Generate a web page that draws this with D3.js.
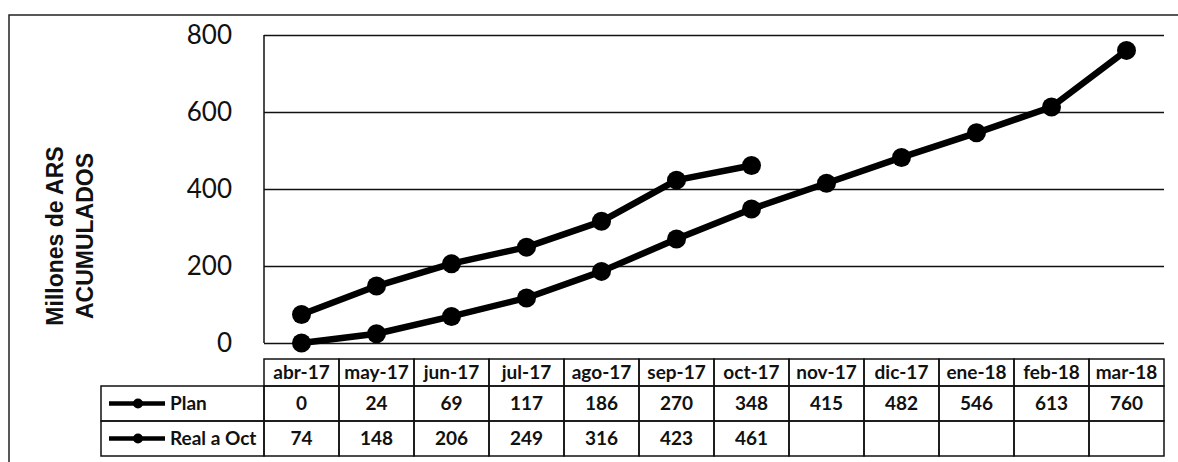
<!DOCTYPE html>
<html>
<head>
<meta charset="utf-8">
<script src="https://cdn.jsdelivr.net/npm/d3@7"></script>
<style>
  body { margin: 0; background: #fff; }
  svg { display: block; }
</style>
</head>
<body>
<svg id="chart"></svg>
<script>
const months = ['abr-17', 'may-17', 'jun-17', 'jul-17', 'ago-17', 'sep-17',
    'oct-17', 'nov-17', 'dic-17', 'ene-18', 'feb-18', 'mar-18'];
const planValues = [0, 24, 69, 117, 186, 270, 348, 415, 482, 546, 613, 760];
const realValues = [74, 148, 206, 249, 316, 423, 461];
const yTicks = [0, 200, 400, 600, 800];
const seriesNames = ['Plan', 'Real a Oct'];

const W = 1178, H = 462;
const margin = {top: 35, right: 14, bottom: 119, left: 264};
const width = W - margin.left - margin.right;
const height = H - margin.top - margin.bottom;

const svg = d3.select('#chart').attr('width', W).attr('height', H);

// outer frame, cropped on the right and bottom like the source
svg.append('rect')
    .attr('x', 9).attr('y', 15)
    .attr('width', W).attr('height', H)
    .attr('fill', 'none').attr('stroke', '#222').attr('stroke-width', 1.5);

const g = svg.append('g')
    .attr('transform', 'translate(' + margin.left + ',' + margin.top + ')');

const x = d3.scaleBand().domain(months).range([0, width]).padding(0);
const y = d3.scaleLinear().domain([0, 800]).range([height, 0]);
const cx = d => x(d) + x.bandwidth() / 2;

// gridlines
g.append('g')
    .attr('class', 'grid')
    .call(d3.axisLeft(y).tickValues(yTicks).tickSize(-width).tickFormat(''))
    .call(s => s.select('.domain').remove())
    .call(s => s.selectAll('line').attr('stroke', '#111').attr('stroke-width', 1.5));

// left axis line
g.append('line')
    .attr('x1', 0).attr('x2', 0).attr('y1', 0).attr('y2', height)
    .attr('stroke', '#111').attr('stroke-width', 1.5);

// y tick labels
g.append('g')
    .call(d3.axisLeft(y).tickValues(yTicks).tickSize(0).tickPadding(32))
    .call(s => s.select('.domain').remove())
    .call(s => s.selectAll('text')
        .attr('font-family', 'Lato, sans-serif')
        .attr('font-size', 26)
        .attr('fill', '#111'));

// y title
const title = svg.append('text')
    .attr('transform', 'translate(70,236) rotate(-90)')
    .attr('text-anchor', 'middle')
    .attr('font-family', '"Liberation Sans", Arial, sans-serif')
    .attr('font-weight', 'bold')
    .attr('font-size', 23)
    .attr('fill', '#111');
title.append('tspan').attr('x', 0).attr('dy', '-0.3em').text('Millones de ARS');
title.append('tspan').attr('x', 0).attr('dy', '1.3em').text('ACUMULADOS');

// lines
const line = d3.line()
    .x((d, i) => cx(months[i]))
    .y(d => y(d));

[planValues, realValues].forEach(vals => {
    g.append('path')
        .datum(vals)
        .attr('d', line)
        .attr('fill', 'none')
        .attr('stroke', '#000')
        .attr('stroke-width', 6.5)
        .attr('stroke-linejoin', 'round');
    g.selectAll(null)
        .data(vals)
        .join('circle')
        .attr('cx', (d, i) => cx(months[i]))
        .attr('cy', d => y(d))
        .attr('r', 9.5)
        .attr('fill', '#000');
});

// data table
const tableTop = height + 16;
const headH = 27, rowH = 35;
const legendLeft = 101 - margin.left;
const tbl = g.append('g').attr('class', 'table')
    .attr('font-family', 'Lato, sans-serif')
    .attr('font-weight', 'bold')
    .attr('font-size', 19)
    .attr('fill', '#111');

const cellStyle = s => s.attr('fill', 'none').attr('stroke', '#111').attr('stroke-width', 1.5);

// header cells
tbl.selectAll('rect.head')
    .data(months)
    .join('rect')
    .attr('class', 'head')
    .attr('x', d => x(d)).attr('y', tableTop)
    .attr('width', x.bandwidth()).attr('height', headH)
    .call(cellStyle);
tbl.selectAll('text.head')
    .data(months)
    .join('text')
    .attr('class', 'head')
    .attr('x', d => cx(d)).attr('y', tableTop + headH / 2)
    .attr('dy', '0.36em')
    .attr('text-anchor', 'middle')
    .text(d => d);

[planValues, realValues].forEach((vals, r) => {
    const ry = tableTop + headH + r * rowH;
    // legend cell
    tbl.append('rect')
        .attr('x', legendLeft).attr('y', ry)
        .attr('width', -legendLeft).attr('height', rowH)
        .call(cellStyle);
    tbl.append('line')
        .attr('x1', legendLeft + 8).attr('x2', legendLeft + 64)
        .attr('y1', ry + rowH / 2).attr('y2', ry + rowH / 2)
        .attr('stroke', '#000').attr('stroke-width', 4.5);
    tbl.append('circle')
        .attr('cx', legendLeft + 37).attr('cy', ry + rowH / 2)
        .attr('r', 5).attr('fill', '#000');
    tbl.append('text')
        .attr('x', legendLeft + 69).attr('y', ry + rowH / 2)
        .attr('dy', '0.36em')
        .text(seriesNames[r]);

    tbl.selectAll(null)
        .data(months)
        .join('rect')
        .attr('x', d => x(d)).attr('y', ry)
        .attr('width', x.bandwidth()).attr('height', rowH)
        .call(cellStyle);
    tbl.selectAll(null)
        .data(vals)
        .join('text')
        .attr('x', (d, i) => cx(months[i])).attr('y', ry + rowH / 2)
        .attr('dy', '0.36em')
        .attr('text-anchor', 'middle')
        .text(d => d);
});
</script>
</body>
</html>
